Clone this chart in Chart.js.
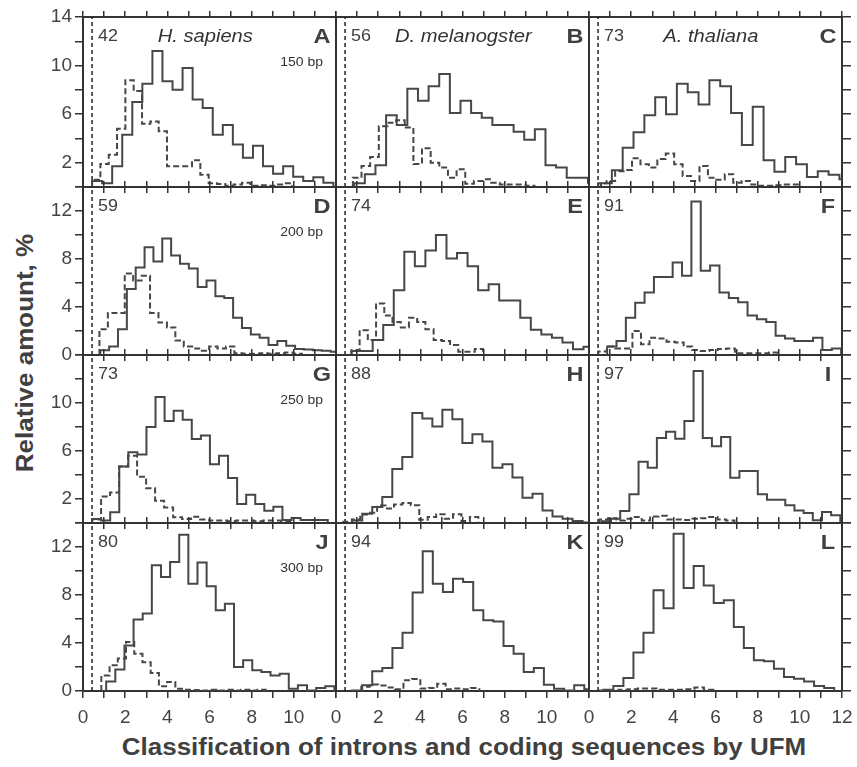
<!DOCTYPE html>
<html><head><meta charset="utf-8">
<script src="https://cdn.jsdelivr.net/npm/chart.js@4.4.1/dist/chart.umd.min.js"></script>
<style>
html,body{margin:0;padding:0;background:#fff;}
body{width:857px;height:767px;overflow:hidden;position:relative;font-family:"Liberation Sans",Arial,Helvetica,sans-serif;}
canvas{position:absolute;}
#ytitle{position:absolute;left:25px;top:353px;transform:translate(-50%,-50%) rotate(-90deg) scaleX(1.13);white-space:nowrap;font-weight:bold;font-size:23px;color:#404040;}
#xtitle{position:absolute;left:464px;top:747px;transform:translate(-50%,-50%) scaleX(1.13);white-space:nowrap;font-weight:bold;font-size:23px;color:#404040;}
</style></head><body>
<div id="ytitle">Relative amount, %</div>
<div id="xtitle">Classification of introns and coding sequences by UFM</div>
<script>
// ---------------- data ----------------
const species = ['H. sapiens', 'D. melanogster', 'A. thaliana'];
const lengths = ['150 bp', '200 bp', '250 bp', '300 bp'];
const letters = ['A','B','C','D','E','F','G','H','I','J','K','L'];
const counts = [42, 56, 73, 59, 74, 91, 73, 88, 97, 80, 94, 99];
const threshold = 0.43;
const xTickLabelsCol = [[0,2,4,6,8,10],[0,2,4,6,8,10],[0,2,4,6,8,10,12]];
const yTickLabelsRow = [[2,6,10,14],[0,4,8,12],[2,6,10],[0,4,8,12]];

// bins: [first edge, bin width]
const solidA = [0.5,0.3,1.7,4.3,7.0,8.5,11.2,8.7,8.0,9.8,7.2,6.5,4.3,5.1,3.5,2.4,3.4,1.7,1.1,1.7,0.85,0.5,0.8,0.35];
const solidABins = [0.43, 0.477];
const dashedA = [0.6,1.9,2.65,4.8,8.8,7.9,5.2,5.4,4.6,1.7,1.7,1.7,2.2,1.0,0.3,0.25,0.1,0.2,0.35,0.1,0.15,0.1,0.2,0.3];
const dashedABins = [0.43, 0.395];

const solidB = [0,0.3,1.05,1.8,5.9,5.1,8.1,7.1,8.3,9.3,6.1,7.1,6.1,5.7,5.1,5.1,4.56,3.9,4.75,1.8,1.6,0.77,0.77,0.36];
const solidBBins = [0.36, 0.504];
const dashedB = [0.77,1.73,2.47,5.0,5.3,5.5,4.9,1.9,3.2,2.0,1.6,0.77,1.46,0.27,0.5,0.63,0.36,0.2,0.2,0.2,0.1];
const dashedBBins = [0.8, 0.41];

const solidC = [0.3,1.37,3.24,4.5,5.9,7.4,6.0,8.5,7.8,6.8,8.8,8.3,6.1,3.46,6.6,2.2,1.26,2.47,1.87,0.82,1.3,1.0,0.63];
const solidCBins = [0.57, 0.514];
const dashedC = [0.3,0.5,1.3,1.4,2.36,1.87,1.6,2.3,2.75,1.87,0.9,0.5,1.73,0.77,0.6,1.05,0.36,0.5,0.2,0.1,0.1,0.15,0.2,0.2];
const dashedCBins = [0.44, 0.4];

const solidD = [0.4,0.7,2.15,5.5,7.3,8.97,7.8,9.7,8.3,7.6,7.2,5.66,6.2,4.9,4.75,3.1,2.26,1.7,1.43,0.83,1.16,0.77,0.5,0.45,0.4,0.35,0.28];
const solidDBins = [0.82, 0.42];
const dashedD = [2.15,3.5,3.5,6.8,6.2,6.6,3.5,2.7,2.3,1.2,0.7,0.55,0.35,0.7,0.55,0.7,0.15,0.1,0.1,0.15,0.1,0.15,0.2,0.1];
const dashedDBins = [0.78, 0.4];

const solidE = [0.33,0.33,1.24,2.5,5.4,8.6,7.4,8.7,10.0,8.05,8.5,7.4,5.4,5.9,4.55,4.55,3.1,2.1,1.7,1.43,1.05,0.47,0.69];
const solidEBins = [0.74, 0.5];
const dashedE = [0.4,2.07,1.24,4.3,3.3,2.76,2.3,3.1,2.76,2.15,1.24,1.16,0.83,0.28,0.28,0.5];
const dashedEBins = [0.73, 0.39];

const solidF = [0.7,1.16,3.1,4.36,5.2,6.5,6.5,7.7,6.6,12.8,7.03,7.45,5.2,4.75,4.4,3.3,2.98,2.76,1.6,1.38,1.16,1.16,1.43,0.41,0.55];
const solidFBins = [0.86, 0.444];
const dashedF = [0.3,0.7,0.55,0.55,2.0,0.9,1.43,1.38,1.1,1.05,0.7,0.41,0.33,0.41,0.5,0.55,0.14,0.14,0.14,0.14,0.2];
const dashedFBins = [0.44, 0.405];

const solidG = [0.33,0.2,0.9,4.7,5.9,5.7,8.0,10.5,8.5,9.36,8.6,7.0,7.3,4.9,5.6,3.75,1.58,2.36,1.58,1.03,1.36,0.25,0.42,0.25,0.25,0.25];
const solidGBins = [0.43, 0.43];
const dashedG = [0.3,2.2,2.55,4.7,5.6,3.86,2.9,1.86,1.3,0.47,0.33,0.53,0.3,0.2,0.2,0.15,0.2,0.2,0.15,0.2,0.2,0.15];
const dashedGBins = [0.43, 0.427];

const solidH = [0.2,0.78,1.33,2.17,4.5,5.5,9.17,8.7,8.05,9.44,8.64,6.67,7.4,6.8,4.6,4.9,3.8,2.1,2.44,1.05,0.55,0.36,0.17,0.05];
const solidHBins = [0.77, 0.475];
const dashedH = [0.1,0.3,0.7,0.85,1.45,1.2,1.55,1.67,1.47,0.28,0.5,0.72,0.36,0.72,0.17,0.5];
const dashedHBins = [0.35, 0.4];

const solidI = [0.15,0.36,1.0,2.4,5.1,4.6,7.08,7.6,7.03,8.5,12.67,7.08,6.4,7.17,3.78,4.33,4.33,2.4,1.94,1.94,1.47,1.05,0.83,0.22,0.92,0.64];
const solidIBins = [0.61, 0.435];
const dashedI = [0.3,0.4,0.2,0.35,0.5,0.2,0.55,0.6,0.3,0.3,0.25,0.35,0.4,0.5,0.3,0.2];
const dashedIBins = [0.5, 0.4];

const solidJ = [0.8,1.8,3.8,5.95,6.45,10.47,9.5,10.75,13.03,8.94,10.7,8.72,6.72,7.28,2.0,2.56,1.72,1.58,1.3,1.44,0.19,0.47,0.05,0.25,0.39];
const solidJBins = [1.1, 0.433];
const dashedJ = [1.3,2.14,2.7,4.08,3.1,2.4,1.5,0.39,0.75,0.19,0.1,0.08,0.05,0.1,0.05,0.1,0.05,0.1,0.05,0.1];
const dashedJBins = [0.87, 0.39];

const solidK = [0.05,0.47,1.64,1.92,3.58,4.86,8.2,11.64,8.94,8.25,9.36,9.08,6.72,5.9,5.8,3.75,3.1,1.58,1.92,0.53,0.19,0.05,0.47,0.14];
const solidKBins = [0.76, 0.479];
const dashedK = [0.35,0.55,0.45,0.3,0.15,0.9,1.0,0.2,0.25,0.6,0.15,0.2,0.15,0.25];
const dashedKBins = [1.2, 0.4];

const solidL = [0.1,0.42,1.08,3.2,4.86,8.4,6.9,13.1,8.58,10.42,8.8,7.33,7.56,5.33,3.58,2.56,2.47,1.86,1.17,1.03,0.8,0.42,0.25];
const solidLBins = [0.68, 0.476];
const dashedL = [0.05,0.05,0.1,0.15,0.2,0.2,0.1,0.1,0.1,0.15,0.3,0.1];
const dashedLBins = [0.5, 0.45];

// ---------------- layout ----------------
const FONT = '"Liberation Sans", Arial, Helvetica, sans-serif';
const INK = '#333333';
const LINE = '#474747';
const colLeft = [83, 336, 589];
const colW = 253;
const rowTop = [17, 187, 355, 523];
const rowH = [170, 168, 168, 168];
const PAD = 46;
const speciesX = [5.8, 6.04, 5.78];
const TXT_STRETCH = 1.12;

const panels = [
  [solidA, solidABins, dashedA, dashedABins],
  [solidB, solidBBins, dashedB, dashedBBins],
  [solidC, solidCBins, dashedC, dashedCBins],
  [solidD, solidDBins, dashedD, dashedDBins],
  [solidE, solidEBins, dashedE, dashedEBins],
  [solidF, solidFBins, dashedF, dashedFBins],
  [solidG, solidGBins, dashedG, dashedGBins],
  [solidH, solidHBins, dashedH, dashedHBins],
  [solidI, solidIBins, dashedI, dashedIBins],
  [solidJ, solidJBins, dashedJ, dashedJBins],
  [solidK, solidKBins, dashedK, dashedKBins],
  [solidL, solidLBins, dashedL, dashedLBins]
];

// histogram outline: bin i covers [s + i*w, s + (i+1)*w]
function steps(vals, bins) {
  const s = bins[0], w = bins[1];
  const pts = [{x: s, y: 0}];
  vals.forEach((v, i) => pts.push({x: s + i * w, y: v}));
  pts.push({x: s + vals.length * w, y: 0});
  return pts;
}

const fixW = w => s => { s.width = w; s.paddingTop = 0; s.paddingBottom = 0; s.paddingLeft = 0; s.paddingRight = 0; };
const fixH = h => s => { s.height = h; s.paddingTop = 0; s.paddingBottom = 0; s.paddingLeft = 0; s.paddingRight = 0; };

function stretchText(ctx, txt, x, y, align) {
  ctx.save();
  ctx.translate(x, y);
  ctx.scale(TXT_STRETCH, 1);
  ctx.textAlign = align;
  ctx.fillText(txt, 0, 0);
  ctx.restore();
}

function makePanel(p) {
  const r = Math.floor(p / 3), c = p % 3;
  const [sv, sb, dv, db] = panels[p];
  const cv = document.createElement('canvas');
  cv.width = colW + 2 * PAD;
  cv.height = rowH[r] + 2 * PAD;
  cv.style.left = (colLeft[c] - PAD) + 'px';
  cv.style.top = (rowTop[r] - PAD) + 'px';
  document.body.appendChild(cv);

  const annot = {
    id: 'annot',
    afterDatasetsDraw(chart) {
      const {ctx, chartArea: a, scales} = chart;
      const x = scales.x;
      ctx.save();
      ctx.fillStyle = '#404040';
      ctx.textBaseline = 'middle';
      ctx.font = '16px ' + FONT;
      stretchText(ctx, String(counts[p]), x.getPixelForValue(threshold) + 6, a.top + 20, 'left');
      ctx.font = 'bold 21px ' + FONT;
      stretchText(ctx, letters[p], a.right - 14, a.top + 20, 'center');
      if (r === 0) {
        ctx.font = 'italic 18px ' + FONT;
        ctx.fillStyle = '#333';
        stretchText(ctx, species[c], x.getPixelForValue(speciesX[c]), a.top + 20, 'center');
      }
      if (c === 0) {
        ctx.font = '12.5px ' + FONT;
        ctx.fillStyle = '#333';
        stretchText(ctx, lengths[r], a.right - 13, a.top + 46, 'right');
      }
      ctx.restore();
    }
  };

  const tickFont = {family: FONT, size: 19};
  const padL = c === 0 ? 0 : PAD;
  const padB = r === 3 ? 0 : PAD;
  new Chart(cv, {
    type: 'line',
    data: {
      datasets: [
        {data: steps(sv, sb), stepped: 'before', borderColor: LINE, borderWidth: 2, pointRadius: 0, fill: false, clip: 0},
        {data: steps(dv, db), stepped: 'before', borderColor: LINE, borderWidth: 2, borderDash: [6, 3], pointRadius: 0, fill: false, clip: 0},
        {data: [{x: threshold, y: 0}, {x: threshold, y: 14}], borderColor: '#222', borderWidth: 1.5, borderDash: [4, 3], pointRadius: 0, fill: false, clip: 0}
      ]
    },
    options: {
      responsive: false, animation: false, events: [],
      layout: {padding: {left: padL, right: PAD, top: PAD, bottom: padB}},
      plugins: {legend: {display: false}, tooltip: {enabled: false}},
      scales: {
        x: {
          type: 'linear', position: 'bottom', min: 0, max: 12,
          ticks: {stepSize: 1, display: r === 3, autoSkip: false, maxRotation: 0, minRotation: 0, padding: 8,
                  font: tickFont, color: '#444',
                  callback: v => xTickLabelsCol[c].includes(v) ? String(v) : ''},
          grid: {drawOnChartArea: false, drawTicks: true, tickLength: r === 3 ? 7 : 6, color: INK, lineWidth: 1.5},
          border: {display: true, color: INK, width: 2},
          afterFit: fixH(PAD - padB)
        },
        xt: {
          type: 'linear', position: 'top', min: 0, max: 12,
          ticks: {stepSize: 1, display: false},
          grid: {drawOnChartArea: false, drawTicks: true, tickLength: 6, color: INK, lineWidth: 1.5},
          border: {display: true, color: INK, width: 2},
          afterFit: fixH(0)
        },
        y: {
          type: 'linear', position: 'left', min: 0, max: 14,
          ticks: {stepSize: 2, display: c === 0, autoSkip: false, padding: 3, font: tickFont, color: '#444',
                  callback: v => yTickLabelsRow[r].includes(v) ? String(v) : ''},
          grid: {display: c === 0, drawOnChartArea: false, drawTicks: true, tickLength: 8, color: INK, lineWidth: 1.5},
          border: {display: true, color: INK, width: 2},
          afterFit: fixW(PAD - padL)
        },
        yr: {
          type: 'linear', position: 'right', min: 0, max: 14,
          ticks: {stepSize: 2, display: false},
          grid: {display: c === 2, drawOnChartArea: false, drawTicks: true, tickLength: 9, color: INK, lineWidth: 1.5},
          border: {display: true, color: INK, width: 2},
          afterFit: fixW(0)
        }
      }
    },
    plugins: [annot]
  });
}

for (let p = 0; p < 12; p++) makePanel(p);
</script>
</body></html>
